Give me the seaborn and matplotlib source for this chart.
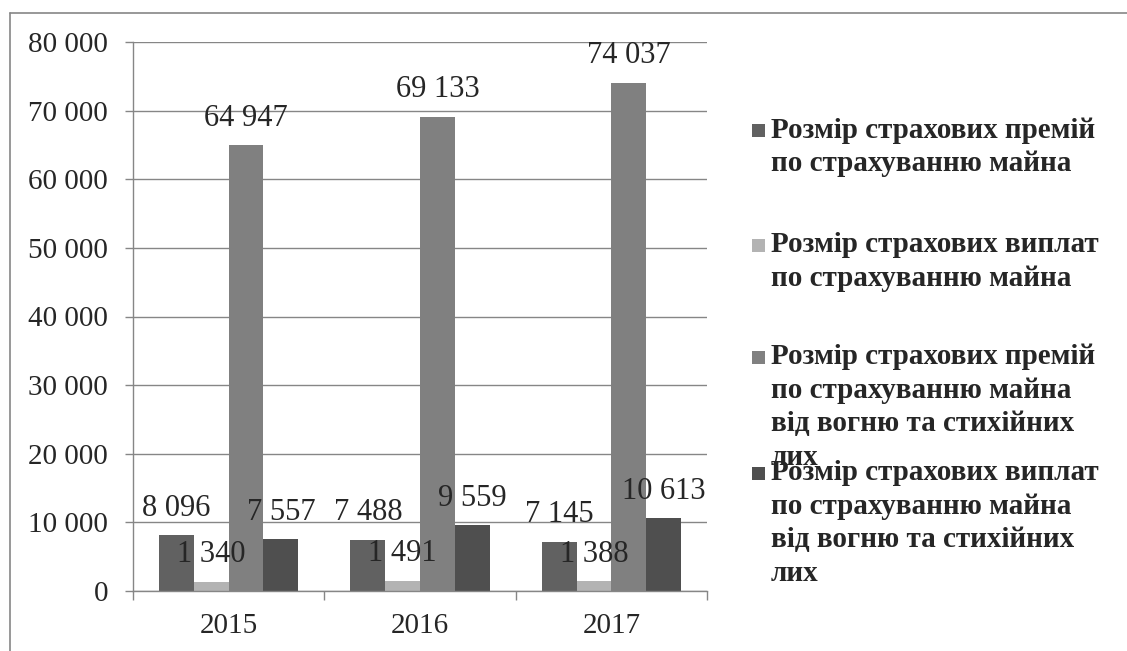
import pandas as pd
import numpy as np
import matplotlib
matplotlib.use("Agg")
import matplotlib.pyplot as plt
from matplotlib.lines import Line2D
from matplotlib.patches import Rectangle
import seaborn as sns

sns.set_style("white")
plt.rcParams['font.family'] = ['Liberation Serif', 'DejaVu Serif']

# data
years = ['2015', '2016', '2017']
series = [
    "Розмір страхових премій\nпо страхуванню майна",
    "Розмір страхових виплат\nпо страхуванню майна",
    "Розмір страхових премій\nпо страхуванню майна\nвід вогню та стихійних\nлих",
    "Розмір страхових виплат\nпо страхуванню майна\nвід вогню та стихійних\nлих",
]
premiums = [8096, 7488, 7145]
payments = [1340, 1491, 1388]
fire_premiums = [64947, 69133, 74037]
fire_payments = [7557, 9559, 10613]
colors = ['#616161', '#b3b3b3', '#808080', '#4f4f4f']
yticks = [0, 10000, 20000, 30000, 40000, 50000, 60000, 70000, 80000]

values = [premiums, payments, fire_premiums, fire_payments]
rows = []
for s, vals in zip(series, values):
    for y, v in zip(years, vals):
        rows.append({'year': y, 'series': s, 'value': v})
df = pd.DataFrame(rows)


def fmt(v):
    return f"{int(v):,}".replace(",", " ")


W, H = 1127, 651
fig = plt.figure(figsize=(W / 100, H / 100), dpi=100)
ax = fig.add_axes([133 / W, 1 - 591 / H, (707 - 133) / W, (591 - 42) / H])

sns.barplot(data=df, x='year', y='value', hue='series', hue_order=series,
            palette=colors, width=0.727, saturation=1, ax=ax, legend=False,
            edgecolor='none', linewidth=0)

grid_c = '#868686'
ax.set_ylim(0, 80000)
ax.set_xlim(-0.5, 2.5)
ax.set_yticks(yticks)
ax.set_yticklabels([fmt(t) for t in yticks])
ax.yaxis.grid(True, color=grid_c, linewidth=1.0)
ax.set_axisbelow(True)
ax.set_xlabel("")
ax.set_ylabel("")
for side in ['top', 'right']:
    ax.spines[side].set_visible(False)
for side in ['left', 'bottom']:
    ax.spines[side].set_color(grid_c)
    ax.spines[side].set_linewidth(1.0)

ax.tick_params(axis='y', length=6, width=1.0, color=grid_c, pad=12,
               labelsize=21, left=True)
ax.tick_params(axis='x', which='major', length=0, pad=16, labelsize=21)
ax.set_xticks([-0.5, 0.5, 1.5, 2.5], minor=True)
ax.tick_params(axis='x', which='minor', length=6.5, width=1.0, color=grid_c,
               bottom=True)

for cont in ax.containers:
    ax.bar_label(cont, labels=[fmt(b.get_height()) for b in cont],
                 padding=9, fontsize=22)

# outer chart frame
fig.add_artist(Line2D([10 / W, 1], [1 - 13 / H, 1 - 13 / H],
                      transform=fig.transFigure, color=grid_c, lw=1.2))
fig.add_artist(Line2D([10 / W, 10 / W], [0, 1 - 13 / H],
                      transform=fig.transFigure, color=grid_c, lw=1.2))

# legend drawn like the Excel one (entries overlap)
starts = [130, 245, 357, 473]
line_h = 33.5
for lab, col, y0 in zip(series, colors, starts):
    fig.add_artist(Rectangle((752 / W, 1 - (y0 + 7) / H), 13 / W, 13 / H,
                             transform=fig.transFigure, facecolor=col,
                             edgecolor='none'))
    for i, line in enumerate(lab.split("\n")):
        fig.text(771 / W, 1 - (y0 + i * line_h) / H, line, fontsize=21,
                 fontweight='bold', va='center', ha='left')

fig.savefig("out.png", dpi=100)
